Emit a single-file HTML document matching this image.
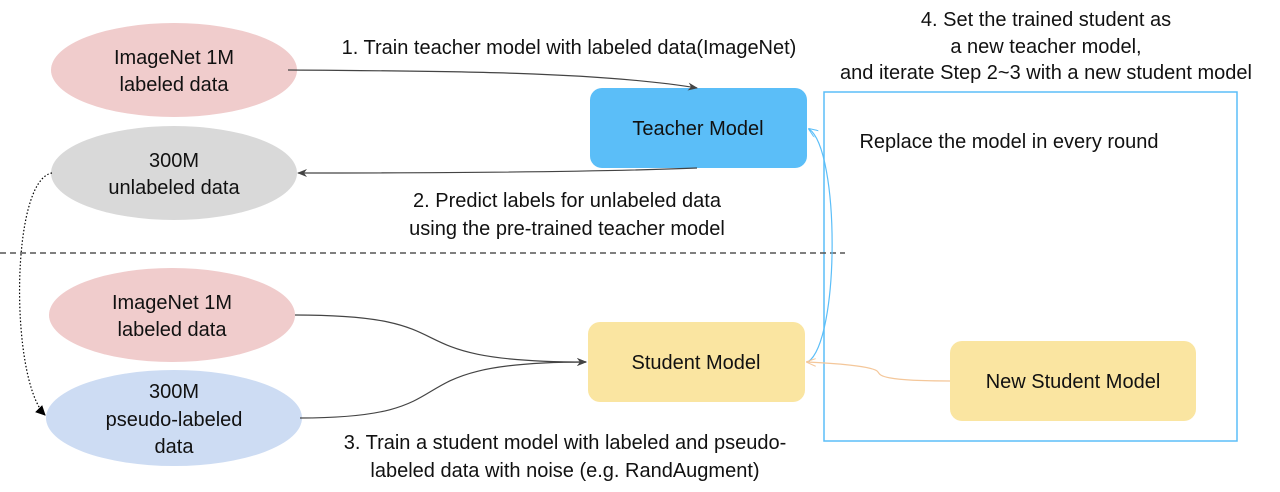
<!DOCTYPE html>
<html><head><meta charset="utf-8"><style>
html,body{margin:0;padding:0;background:#fff;}
svg{display:block;}
text{font-family:"Liberation Sans","DejaVu Sans",sans-serif;font-size:20px;fill:#111;}
</style></head><body>
<svg width="1280" height="492" viewBox="0 0 1280 492" xmlns="http://www.w3.org/2000/svg">
<defs>
<marker id="ad" markerWidth="10" markerHeight="8" refX="9" refY="4" orient="auto" markerUnits="userSpaceOnUse"><path d="M0,0 L10,4 L0,8 L3,4 z" fill="#444"/></marker>
<marker id="ab" markerWidth="10" markerHeight="8" refX="9" refY="4" orient="auto" markerUnits="userSpaceOnUse"><path d="M0,0 L10,4 L0,8" fill="none" stroke="#5bbef8"/></marker>
<marker id="ao" markerWidth="10" markerHeight="8" refX="9" refY="4" orient="auto" markerUnits="userSpaceOnUse"><path d="M0,0 L10,4 L0,8" fill="none" stroke="#f4c79a"/></marker>
<marker id="ak" markerWidth="10" markerHeight="10" refX="9" refY="5" orient="auto" markerUnits="userSpaceOnUse"><path d="M0,0 L10,5 L0,10 z" fill="#000"/></marker>
</defs>
<rect x="824" y="92" width="413" height="349" fill="none" stroke="#5bbef8" stroke-width="1.5"/>
<line x1="0" y1="253" x2="845" y2="253" stroke="#555" stroke-width="1.5" stroke-dasharray="6,4"/>
<ellipse cx="174" cy="70" rx="123" ry="47" fill="#f0cccc"/>
<ellipse cx="174" cy="173" rx="123" ry="47" fill="#d9d9d9"/>
<ellipse cx="172" cy="315" rx="123" ry="47" fill="#f0cccc"/>
<ellipse cx="174" cy="418" rx="128" ry="48" fill="#cddcf3"/>
<rect x="590" y="88" width="217" height="80" rx="12" fill="#5bbef8"/>
<rect x="588" y="322" width="217" height="80" rx="12" fill="#fae5a1"/>
<rect x="950" y="341" width="246" height="80" rx="12" fill="#fae5a1"/>
<path d="M288,70 C450,71 600,72 697,88" fill="none" stroke="#444" stroke-width="1.2" marker-end="url(#ad)"/>
<path d="M697,168 C600,172 450,173 298,173" fill="none" stroke="#444" stroke-width="1.2" marker-end="url(#ad)"/>
<path d="M295,315 C480,315 380,362 586,362" fill="none" stroke="#444" stroke-width="1.2" marker-end="url(#ad)"/>
<path d="M300,418 C480,418 380,362 586,362" fill="none" stroke="#444" stroke-width="1.2" marker-end="url(#ad)"/>
<path d="M52,173 C10,180 10,380 45,415" fill="none" stroke="#000" stroke-width="1.2" stroke-dasharray="1.5,2" marker-end="url(#ak)"/>
<path d="M808,362 C840,340 840,150 809,129" fill="none" stroke="#5bbef8" stroke-width="1.2" marker-end="url(#ab)"/>
<path d="M950,381 C880,381 880,375 878,372 C875,366 830,363 807,362" fill="none" stroke="#f4c79a" stroke-width="1.2" marker-end="url(#ao)"/>
<g text-anchor="middle">
<text x="174" y="64">ImageNet 1M</text><text x="174" y="91">labeled data</text>
<text x="174" y="167">300M</text><text x="174" y="194">unlabeled data</text>
<text x="172" y="309">ImageNet 1M</text><text x="172" y="336">labeled data</text>
<text x="174" y="398">300M</text><text x="174" y="426">pseudo-labeled</text><text x="174" y="453">data</text>
<text x="698" y="135">Teacher Model</text>
<text x="696" y="369">Student Model</text>
<text x="1073" y="388">New Student Model</text>
<text x="569" y="54">1. Train teacher model with labeled data(ImageNet)</text>
<text x="567" y="207">2. Predict labels for unlabeled data</text>
<text x="567" y="235">using the pre-trained teacher model</text>
<text x="1046" y="26">4. Set the trained student as</text>
<text x="1046" y="53">a new teacher model,</text>
<text x="1046" y="79">and iterate Step 2~3 with a new student model</text>
<text x="1009" y="148">Replace the model in every round</text>
<text x="565" y="449">3. Train a student model with labeled and pseudo-</text>
<text x="565" y="477">labeled data with noise (e.g. RandAugment)</text>
</g>
</svg>
</body></html>
